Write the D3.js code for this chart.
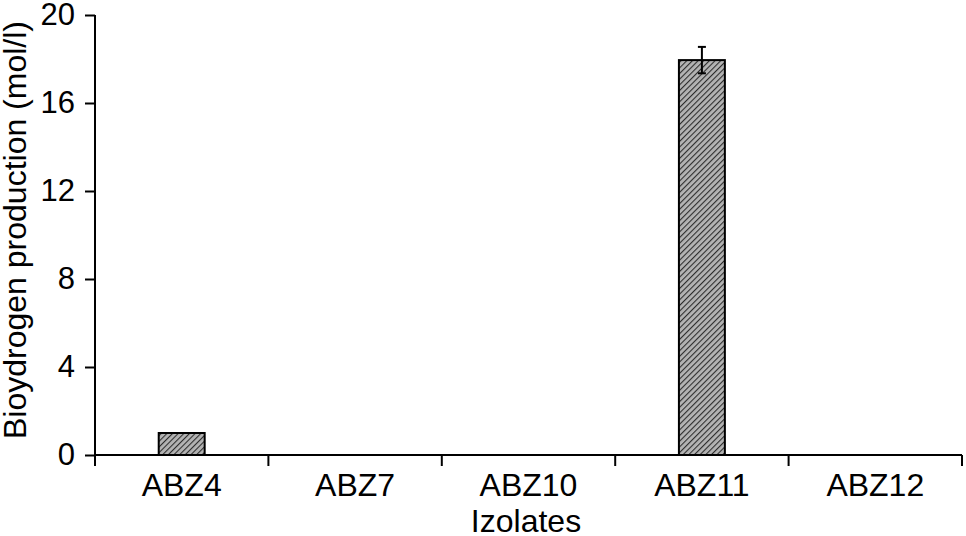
<!DOCTYPE html>
<html>
<head>
<meta charset="utf-8">
<script src="https://cdn.jsdelivr.net/npm/d3@7"></script>
<style>
  body { margin: 0; background: #fff; }
  svg { display: block; font-family: "Liberation Sans", Arial, sans-serif; }
</style>
</head>
<body>
<svg width="966" height="536"></svg>
<script>
// data
const isolates = ["ABZ4", "ABZ7", "ABZ10", "ABZ11", "ABZ12"];
const production = [1.0, 0, 0, 17.95, 0];
const errors = [0, 0, 0, 0.6, 0];
const yTicks = [0, 4, 8, 12, 16, 20];

const width = 966, height = 536;
const margin = { top: 15, right: 4, bottom: 81, left: 95 };

const svg = d3.select("svg");
const defs = svg.append("defs");

// hatch fill for bars
const pat = defs.append("pattern")
    .attr("id", "hatch")
    .attr("patternUnits", "userSpaceOnUse")
    .attr("width", 4)
    .attr("height", 4)
    .attr("patternTransform", "rotate(45)");
pat.append("rect").attr("width", 4).attr("height", 4).attr("fill", "#b4b4b4");
pat.append("line")
    .attr("x1", 0).attr("y1", 0).attr("x2", 0).attr("y2", 4)
    .attr("stroke", "#2e2e2e").attr("stroke-width", 2.2);

const x = d3.scaleBand()
    .domain(isolates)
    .range([margin.left, width - margin.right])
    .padding(0);

const y = d3.scaleLinear()
    .domain([0, 20])
    .range([height - margin.bottom, margin.top]);

const barW = x.bandwidth() * 0.265;

// y axis
const yAxis = svg.append("g")
    .attr("transform", `translate(${margin.left},0)`)
    .call(d3.axisLeft(y).tickValues(yTicks).tickSize(10).tickPadding(10).tickSizeOuter(0));
yAxis.select(".domain").remove();
yAxis.append("line")
    .attr("x1", 0).attr("x2", 0)
    .attr("y1", y(20)).attr("y2", y(0) + 11)
    .attr("stroke", "#000").attr("stroke-width", 2);
yAxis.selectAll(".tick line").attr("stroke-width", 2);
yAxis.selectAll(".tick text").attr("font-size", 31).attr("fill", "#000");

// x axis: baseline + boundary ticks, labels centred
const xg = svg.append("g");
xg.append("line")
    .attr("x1", margin.left).attr("x2", width - margin.right)
    .attr("y1", y(0)).attr("y2", y(0))
    .attr("stroke", "#000").attr("stroke-width", 2);
const bounds = isolates.map(d => x(d)).concat([x(isolates[isolates.length - 1]) + x.bandwidth()]);
xg.selectAll("line.b")
    .data(bounds.slice(1))
    .enter().append("line")
    .attr("class", "b")
    .attr("x1", d => d).attr("x2", d => d)
    .attr("y1", y(0)).attr("y2", y(0) + 11)
    .attr("stroke", "#000").attr("stroke-width", 2);
xg.selectAll("text")
    .data(isolates)
    .enter().append("text")
    .attr("x", d => x(d) + x.bandwidth() / 2)
    .attr("y", y(0) + 41)
    .attr("text-anchor", "middle")
    .attr("font-size", 32)
    .text(d => d);

// bars
svg.append("g")
    .selectAll("rect")
    .data(isolates.map((d, i) => ({ name: d, v: production[i] })).filter(d => d.v > 0))
    .enter().append("rect")
    .attr("x", d => x(d.name) + (x.bandwidth() - barW) / 2)
    .attr("y", d => y(d.v))
    .attr("width", barW)
    .attr("height", d => y(0) - y(d.v))
    .attr("fill", "url(#hatch)")
    .attr("stroke", "#000")
    .attr("stroke-width", 2);

// error bars
const eb = svg.append("g")
    .selectAll("g")
    .data(isolates.map((d, i) => ({ name: d, v: production[i], e: errors[i] })).filter(d => d.e > 0))
    .enter().append("g")
    .attr("stroke", "#000").attr("stroke-width", 2);
eb.append("line")
    .attr("x1", d => x(d.name) + x.bandwidth() / 2)
    .attr("x2", d => x(d.name) + x.bandwidth() / 2)
    .attr("y1", d => y(d.v + d.e))
    .attr("y2", d => y(d.v - d.e));
eb.selectAll("line.cap")
    .data(d => [d.v + d.e, d.v - d.e].map(v => ({ name: d.name, v })))
    .enter().append("line")
    .attr("class", "cap")
    .attr("x1", d => x(d.name) + x.bandwidth() / 2 - 4)
    .attr("x2", d => x(d.name) + x.bandwidth() / 2 + 4)
    .attr("y1", d => y(d.v))
    .attr("y2", d => y(d.v));

// axis titles
svg.append("text")
    .attr("x", 526)
    .attr("y", 532)
    .attr("text-anchor", "middle")
    .attr("font-size", 32)
    .text("Izolates");

svg.append("text")
    .attr("transform", `translate(26,230) rotate(-90)`)
    .attr("text-anchor", "middle")
    .attr("font-size", 32)
    .text("Bioydrogen production (mol/l)");
</script>
</body>
</html>
